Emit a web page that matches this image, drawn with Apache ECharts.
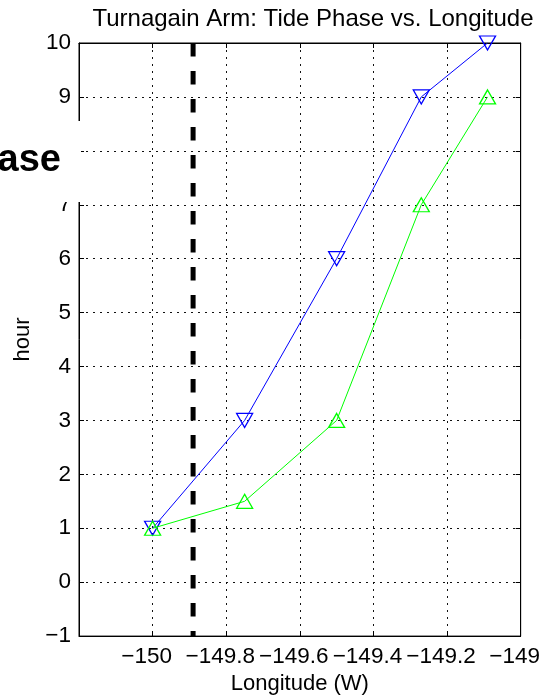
<!DOCTYPE html>
<html>
<head>
<meta charset="utf-8">
<script src="https://cdn.jsdelivr.net/npm/echarts@6/dist/echarts.min.js"></script>
<style>
html,body{margin:0;padding:0;background:#fff;}
#chart{width:543px;height:700px;}
</style>
</head>
<body>
<div id="chart"></div>
<script>
// Data
const longitudes = [-150, -149.75, -149.5, -149.27, -149.09];
const phaseBlue  = [1, 3, 6, 9, 10];
const phaseGreen = [1, 1.5, 3, 7, 9];
const refLongitude = -149.89;
const xRange = [-150.2, -149];
const yRange = [-1, 10];
const titleText = 'Turnagain Arm: Tide Phase vs. Longitude';
const xName = 'Longitude (W)';
const yName = 'hour';
const overlayText = 'ase';

const FONT = "'Liberation Sans', Arial, sans-serif";
const fmt = v => {
  const s = String(Number(v.toFixed(1)));
  return s.replace('-', '\u2212');
};

const chart = echarts.init(document.getElementById('chart'), null, {renderer: 'canvas'});
const axisTickCommon = {show: true, inside: true, length: 5, lineStyle: {color: '#000', width: 1}};
const gridLine = {show: true, lineStyle: {color: '#111', width: 1, type: [2, 5]}};

chart.setOption({
  animation: false,
  backgroundColor: '#fff',
  title: {
    text: titleText,
    left: 308,
    top: 2,
    textAlign: 'center',
    textStyle: {fontFamily: FONT, fontSize: 24, fontWeight: 'normal', color: '#000'}
  },
  grid: {left: 79, right: 22, top: 43, bottom: 57, show: true, borderColor: '#000', borderWidth: 1, backgroundColor: 'transparent'},
  xAxis: [{
    type: 'value', min: xRange[0], max: xRange[1], interval: 0.2,
    position: 'bottom',
    name: xName, nameLocation: 'middle', nameGap: 35,
    nameTextStyle: {fontFamily: FONT, fontSize: 22, color: '#000'},
    axisLine: {show: true, onZero: false, lineStyle: {color: '#000', width: 1}},
    axisTick: axisTickCommon,
    axisLabel: {
      fontFamily: FONT, fontSize: 22.5, color: '#000', margin: 9,
      padding: [0, 12, 0, 0],
      showMinLabel: false,
      formatter: v => (v < -150.1 ? '' : fmt(v))
    },
    splitLine: gridLine
  }, {
    type: 'value', min: xRange[0], max: xRange[1], interval: 0.2,
    position: 'top',
    axisLine: {show: true, onZero: false, lineStyle: {color: '#000', width: 1}},
    axisTick: axisTickCommon,
    axisLabel: {show: false},
    splitLine: {show: false}
  }],
  yAxis: [{
    type: 'value', min: yRange[0], max: yRange[1], interval: 1,
    position: 'left',
    name: yName, nameLocation: 'middle', nameGap: 45,
    nameTextStyle: {fontFamily: FONT, fontSize: 22, color: '#000'},
    axisLine: {show: true, onZero: false, lineStyle: {color: '#000', width: 1}},
    axisTick: axisTickCommon,
    axisLabel: {fontFamily: FONT, fontSize: 22.5, color: '#000', margin: 8, formatter: v => fmt(v)},
    splitLine: gridLine
  }, {
    type: 'value', min: yRange[0], max: yRange[1], interval: 1,
    position: 'right',
    axisLine: {show: true, onZero: false, lineStyle: {color: '#000', width: 1}},
    axisTick: axisTickCommon,
    axisLabel: {show: false},
    splitLine: {show: false}
  }],
  series: [{
    type: 'line',
    data: [[refLongitude, yRange[1]], [refLongitude, yRange[0]]],
    symbol: 'none',
    silent: true,
    lineStyle: {color: '#000', width: 5, type: [13.5, 14.5], cap: 'butt'},
    z: 3
  }, {
    type: 'line',
    data: longitudes.map((x, i) => [x, phaseBlue[i]]),
    symbol: 'triangle',
    symbolRotate: 180,
    symbolSize: [16, 14],
    itemStyle: {color: 'rgba(0,0,0,0)', borderColor: '#0000ff', borderWidth: 1.3},
    lineStyle: {color: '#0000ff', width: 1},
    z: 4
  }, {
    type: 'line',
    data: longitudes.map((x, i) => [x, phaseGreen[i]]),
    symbol: 'triangle',
    symbolSize: [16, 14],
    itemStyle: {color: 'rgba(0,0,0,0)', borderColor: '#00ff00', borderWidth: 1.3},
    lineStyle: {color: '#00ff00', width: 1},
    z: 5
  }],
  graphic: [{
    type: 'rect', z: 100,
    shape: {x: 0, y: 121, width: 81, height: 81},
    style: {fill: '#fff'}
  }, {
    type: 'text', z: 101,
    x: 61, y: 180,
    style: {text: overlayText, fontFamily: FONT, fontSize: 38, fontWeight: 'bold', fill: '#000', textAlign: 'right', textVerticalAlign: 'bottom'}
  }]
});
</script>
</body>
</html>
